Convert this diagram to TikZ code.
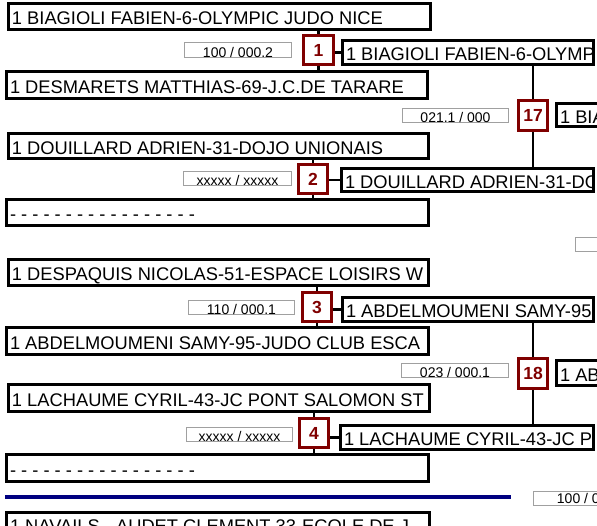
\documentclass[tikz,border=0pt]{standalone}
\usepackage{fontspec}
\setmainfont{Liberation Sans}
\definecolor{mred}{HTML}{800000}
\definecolor{navyb}{HTML}{000080}
\definecolor{sgray}{HTML}{A0A0A0}
\tikzset{
  nmfont/.style={font=\fontsize{18.3}{20}\selectfont},
  scfont/.style={font=\fontsize{14}{15}\selectfont},
  inlabel/.style={draw=none, fill=none, minimum width=0pt, minimum height=0pt, inner sep=0pt, text height=, text depth=},
  namebox/.style={draw, line width=3pt, fill=white, rectangle, inner sep=0pt},
  scorebox/.style={draw=sgray, line width=0.9pt, fill=white, rectangle, inner sep=0pt, scfont, text height=14pt, text depth=0pt},
  matchbox/.style={draw=mred, line width=3pt, fill=white, rectangle, inner sep=0pt, text=mred, font=\fontsize{17.5}{18}\selectfont\bfseries},
  conn/.style={line width=2.8pt, black},
}
% name box: name, x1, y1, x2, y2 (outer, px), text
\newcommand\NBox[6]{%
  \node[namebox, minimum width={#4-#2-3}, minimum height={#5-#3-3},
    path picture={\node[inlabel, anchor=base west, nmfont]
      at ([xshift=2pt,yshift=-8pt]path picture bounding box.west) {#6};}]
    (#1) at ({(#2+#4)/2},{(#3+#5)/2}) {};}
\newcommand\SBox[6]{%
  \node[scorebox, minimum width={#4-#2-1}, minimum height={#5-#3-1}]
    (#1) at ({(#2+#4)/2},{(#3+#5)/2}) {#6};}
\newcommand\MBox[6]{%
  \node[matchbox, minimum width={#4-#2-3}, minimum height={#5-#3-3}]
    (#1) at ({(#2+#4)/2},{(#3+#5)/2}) {#6};}
\begin{document}
\begin{tikzpicture}[x=1pt,y=-1pt]
\useasboundingbox[fill=white] (0,0) rectangle (597,525);
% left name boxes
\NBox{L1}{7}{2}{432}{31}{1 BIAGIOLI FABIEN-6-OLYMPIC JUDO NICE}
\NBox{L2}{5}{70}{429}{100}{1 DESMARETS MATTHIAS-69-J.C.DE TARARE}
\NBox{L3}{7}{132}{430}{160}{1 DOUILLARD ADRIEN-31-DOJO UNIONAIS}
\NBox{L4}{5}{198}{430}{227}{- - - - - - - - - - - - - - - - -}
\NBox{L5}{7}{258}{430}{287}{1 DESPAQUIS NICOLAS-51-ESPACE LOISIRS W}
\NBox{L6}{5}{326}{430}{356}{1 ABDELMOUMENI SAMY-95-JUDO CLUB ESCA}
\NBox{L7}{7}{383}{431}{413}{1 LACHAUME CYRIL-43-JC PONT SALOMON ST}
\NBox{L8}{5}{453}{430}{483}{- - - - - - - - - - - - - - - - -}
\NBox{L9}{5}{511}{431}{537}{1 NAVAILS - AUDET CLEMENT-33-ECOLE DE J}
% winner boxes
\NBox{W1}{341}{39}{595}{66}{1 BIAGIOLI FABIEN-6-OLYMPIC}
\NBox{W2}{340}{167}{595}{193}{1 DOUILLARD ADRIEN-31-DOJO}
\NBox{W3}{341}{296}{595}{323}{1 ABDELMOUMENI SAMY-95-JUDO}
\NBox{W4}{339}{424}{595}{451}{1 LACHAUME CYRIL-43-JC PONT}
\NBox{W17}{555}{102}{650}{128}{1 BIAGIOLI}
\NBox{W18}{555}{359}{650}{387}{1 ABDELMOUMENI}
% score boxes
\SBox{S1}{184}{42}{292}{58}{100 / 000.2}
\SBox{S2}{183}{171}{292}{186}{xxxxx / xxxxx}
\SBox{S3}{188}{300}{295}{315}{110 / 000.1}
\SBox{S4}{186}{427}{293}{441}{xxxxx / xxxxx}
\SBox{S17}{402}{108}{509}{123}{021.1 / 000}
\SBox{S18}{401}{363}{509}{378}{023 / 000.1}
\SBox{S5}{575}{237}{650}{251}{}
\node[scorebox, minimum width=116, minimum height=14,
  path picture={\node[inlabel, anchor=base west, scfont]
    at ([xshift=23pt,yshift=2pt]path picture bounding box.south west) {100 / 0};}]
  (S6) at (591.5,498.5) {};
% match boxes
\MBox{M1}{302}{34}{335}{66}{1}
\MBox{M2}{297}{163}{329}{195}{2}
\MBox{M3}{301}{291}{333}{323}{3}
\MBox{M4}{298}{417}{330}{449}{4}
\MBox{M17}{517}{99}{549}{132}{17}
\MBox{M18}{517}{357}{549}{390}{18}
% connectors
\draw[conn] (L1.south -| M1.north) -- (M1.north);
\draw[conn] (M1.south) -- (L2.north -| M1.south);
\draw[conn] (M1.east |- W1.west) -- (W1.west);
\draw[conn] (L3.south -| M2.north) -- (M2.north);
\draw[conn] (M2.south) -- (L4.north -| M2.south);
\draw[conn] (M2.east |- W2.west) -- (W2.west);
\draw[conn] (L5.south -| M3.north) -- (M3.north);
\draw[conn] (M3.south) -- (L6.north -| M3.south);
\draw[conn] (M3.east |- W3.west) -- (W3.west);
\draw[conn] (L7.south -| M4.north) -- (M4.north);
\draw[conn] (M4.south) -- (L8.north -| M4.south);
\draw[conn] (M4.east |- W4.west) -- (W4.west);
\draw[conn] (W1.south -| M17.north) -- (M17.north);
\draw[conn] (M17.south) -- (W2.north -| M17.south);
\draw[conn] (W3.south -| M18.north) -- (M18.north);
\draw[conn] (M18.south) -- (W4.north -| M18.south);
% separator
\coordinate (B1) at (5,497);
\coordinate (B2) at (511,497);
\draw[navyb, line width=4.5pt] (B1) -- (B2);
\end{tikzpicture}
\end{document}
